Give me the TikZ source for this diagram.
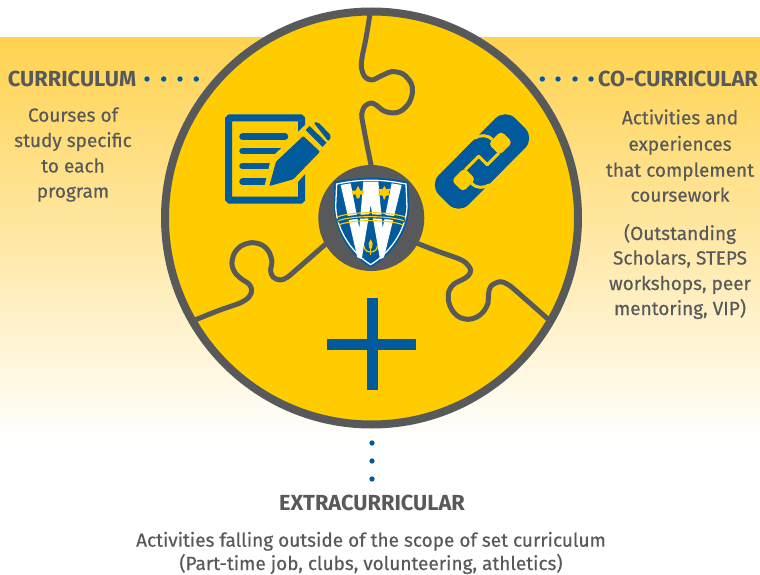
\documentclass[tikz,border=0pt]{standalone}
\usepackage{fontspec}
\setmainfont{Fira Sans}
\newfontfamily\bodyfont[FakeBold=0.35]{Fira Sans}
\usetikzlibrary{shadings}
\definecolor{ugold}{HTML}{FFCC00}
\definecolor{ugray}{HTML}{58595B}
\definecolor{ublue}{HTML}{005A9C}
\definecolor{bgtop}{HTML}{FFD24F}
\tikzset{
  body/.style={text=ugray,anchor=base,font=\fontsize{19}{19}\selectfont\bodyfont,inner sep=0pt},
  head/.style={text=ugray,anchor=base,font=\fontsize{21.8}{22}\selectfont\bfseries,inner sep=0pt},
  dotmark/.style={fill=ublue,draw=none},
  seam/.style={draw=ugray,line width=5pt,line cap=butt,line join=round},
  iconline/.style={draw=ublue,line width=6.5pt,line cap=round},
  gap/.style={draw=ugold,line width=3pt,line join=round}
}
\begin{document}
\begin{tikzpicture}[x=1pt,y=-1pt]
\useasboundingbox (0,0) rectangle (760,575);
\fill[white] (0,0) rectangle (760,575);
% background band
\shade[top color=bgtop,bottom color=white] (0,38) rectangle (760,442);
% disc
\fill[ugold] (371.5,218) circle[radius=206.5pt];
% puzzle seams
\draw[seam] plot[smooth,tension=.55] coordinates {(370,14) (366,38) (362,58) (361.5,68) (365,77) (372,80) (381,76) (391.7,71.7) (403,74) (411,83) (412.5,92) (409,103) (401,111) (393,113) (384,111) (376,105) (371,103) (365,106) (361.7,114) (363,124) (366,140) (369,155) (372,170)};
\draw[seam] plot[smooth,tension=.55] coordinates {(195,320) (220,310) (240,303) (249,297) (251.7,290) (249,284) (243,280) (236,274) (232,265) (234,254) (241,246) (251.7,242.7) (262,245) (269,252) (272,262) (270.5,270) (273,277) (280,280) (287,277.5) (296,270) (328,242)};
\draw[seam] plot[smooth,tension=.55] coordinates {(414,242) (437,251) (458,258.5) (466,263) (470.7,270) (468,276) (461.7,280) (454,284) (449,291) (448.5,301) (452,310) (459,317) (468.3,319.3) (477,317) (484,311) (488,303) (488.5,294) (491,286) (500,281.7) (507,284) (515,290) (549,320)};
% ring
\draw[ugray,line width=8pt] (371.5,218) circle[radius=206.5pt];
% hub
\fill[ugray] (371.3,218) circle[radius=53pt];
% shield
\begin{scope}[shift={(300,150)},x=0.3333pt,y=-0.3333pt]
  \fill[ublue] (103,95) .. controls (140,88) and (180,82) .. (212,84) .. controls (245,82) and (285,88) .. (325,95) -- (328,170) .. controls (325,250) and (270,320) .. (212,352) .. controls (155,320) and (105,250) .. (102,170) -- cycle;
  \draw[white,line width=1.3pt] (110,102) .. controls (145,95) and (180,90) .. (212,91) .. controls (245,90) and (280,95) .. (318,102) -- (321,170) .. controls (318,245) and (265,312) .. (212,344) .. controls (160,312) and (110,245) .. (107,170) -- cycle;
  \fill[white] (122,105) -- (152,100) -- (178,235) -- (190,95) -- (235,95) -- (248,235) -- (275,100) -- (305,105) -- (252,322) -- (240,328) -- (212,165) -- (185,328) -- (172,322) -- cycle;
  \draw[ublue,line width=4pt] (112,212) .. controls (160,195) and (260,195) .. (315,212);
  \draw[ugold,line width=1.1pt] (114,200) .. controls (160,184) and (260,184) .. (314,200);
  \draw[ugold,line width=1.1pt] (115,212) .. controls (160,196) and (260,196) .. (312,212);
  \draw[ugold,line width=1.1pt] (118,224) .. controls (160,208) and (260,208) .. (308,224);
  % fleur-de-lis
  \fill[ugold] (174,108) -- (181,122) -- (192,122) -- (190,134) -- (180,134) -- (178,145) -- (170,145) -- (168,134) -- (157,134) -- (155,122) -- (167,122) -- cycle;
  % maple leaf
  \fill[ugold] (253,108) -- (259,118) -- (272,116) -- (266,128) -- (272,134) -- (257,138) -- (255,148) -- (251,148) -- (249,138) -- (234,134) -- (240,128) -- (234,116) -- (247,118) -- cycle;
  % lower emblem
  \fill[ugold] (212,268) -- (218,280) -- (216,295) -- (208,295) -- (206,280) -- cycle;
  \draw[ugold,line width=1.2pt] (192,288) .. controls (192,312) and (232,312) .. (232,288);
  \draw[ugold,line width=1.2pt] (212,295) -- (212,314);
\end{scope}
% document icon
\draw[ublue,line width=7pt,rounded corners=1pt] (228.7,118) rectangle (301.7,200);
\draw[iconline] (242.5,136.7) -- (285,136.7);
\draw[iconline] (242.5,151) -- (290,151);
\draw[iconline] (242.5,166) -- (285,166);
\draw[iconline] (242.5,181.7) -- (275,181.7);
% pencil
\fill[ugold] (263,193) -- (271,158) -- (304,126) -- (318,114) -- (340,135) -- (296,184) -- cycle;
\fill[ublue,rounded corners=1pt] (269.3,186) -- (276,161.7) -- (303.3,136) -- (320,151.7) -- (293.3,179.3) -- cycle;
\fill[ublue] (305.5,130) -- (309.5,126) -- (326.5,142.5) -- (322.5,147) -- cycle;
\fill[ublue,rounded corners=2pt] (313.5,122.5) -- (318,122) -- (331.5,136) -- (328.5,141.5) -- cycle;
% link icon
\begin{scope}[shift={(482,161.5)},rotate=45]
  \fill[ublue,rounded corners=14pt] (-54,-21) rectangle (22,21);
  \fill[ublue,rounded corners=14pt] (-22,-21) rectangle (54,21);
  \fill[ugold,rounded corners=4pt] (-35,-8) rectangle (-17,8);
  \fill[ugold,rounded corners=4pt] (17,-8) rectangle (35,8);
  \draw[gap] (-18,-6) -- (1.4,-6) -- (1.4,6) -- (18,6);
  \draw[gap] (11,-22) .. controls (18,-20) and (23,-15) .. (23,-8);
  \draw[gap] (-11,22) .. controls (-18,20) and (-23,15) .. (-23,8);
\end{scope}
% plus
\fill[ublue] (367,298) rectangle (377.5,390);
\fill[ublue] (327,339) rectangle (416,349.5);
% dots
\foreach \n/\px/\py in {a/147/79,b/163.7/79,c/180/79,d/196.3/79,e/542.3/79,f/558/79,g/575/79,h/591/79,i/372/443,j/372/461,k/372/479}
  \fill[dotmark] (\px,\py) circle[radius=2.7pt];
% texts
\node[head] (curr) at (72,86.7) {CURRICULUM};
\node[body] (c1) at (73,121.7) {Courses of};
\node[body] (c2) at (73,147) {study specific};
\node[body] (c3) at (73,172.5) {to each};
\node[body] (c4) at (73,197.7) {program};
\node[head] (co) at (678,86.7) {CO-CURRICULAR};
\node[body] (r1) at (680,124.3) {Activities and};
\node[body] (r2) at (680,150.7) {experiences};
\node[body] (r3) at (680,176.7) {that complement};
\node[body] (r4) at (680,201.7) {coursework};
\node[body] (r5) at (680,240) {(Outstanding};
\node[body] (r6) at (680,264.5) {Scholars, STEPS};
\node[body] (r7) at (680,290) {workshops, peer};
\node[body] (r8) at (680,315) {mentoring, VIP)};
\node[head] (ex) at (372,510) {EXTRACURRICULAR};
\node[body] (b1) at (371,546.7) {Activities falling outside of the scope of set curriculum};
\node[body] (b2) at (371,570) {(Part-time job, clubs, volunteering, athletics)};
\end{tikzpicture}
\end{document}
